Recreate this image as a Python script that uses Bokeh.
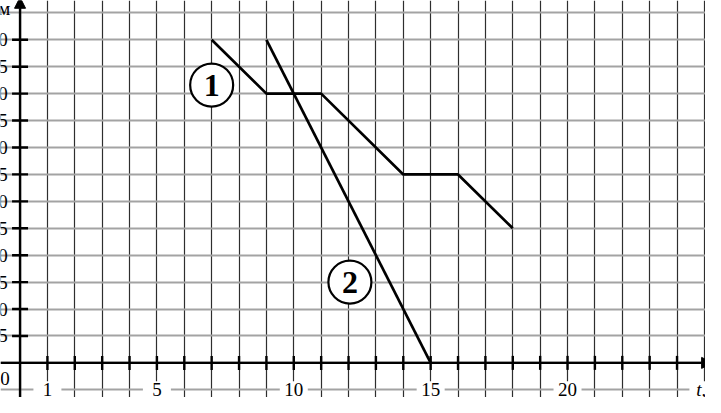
from bokeh.plotting import figure
from bokeh.models import Grid, SingleIntervalTicker, Arrow, NormalHead
from bokeh.core.properties import value
from bokeh.embed import file_html
from bokeh.resources import INLINE

# ---- data ----
t1 = [7, 9, 11, 14, 16, 18]
s1 = [60, 50, 50, 35, 35, 25]
t2 = [9, 15]
s2 = [60, 0]
x_ticks = list(range(1, 25))
y_ticks = [5, 10, 15, 20, 25, 30, 35, 40, 45, 50, 55, 60]
y_tick_labels = ["5", "10", "15", "20", "25", "30", "35", "40", "45", "50", "55", "60"]
x_label_pos = [1, 5, 10, 15, 20]
x_tick_labels = ["1", "5", "10", "15", "20"]
marker_labels = ["1", "2"]
marker_t = [7.0, 12.05]
marker_s = [51.6, 15.0]

X0, X1 = -0.714, 25.04
Y0, Y1 = -6.43, 67.3
SERIF = "Liberation Serif"
LAB_Y = -4.9

p = figure(width=705, height=397, x_range=(X0, X1), y_range=(Y0, Y1),
           output_backend="svg", toolbar_location=None,
           x_axis_location=None, y_axis_location=None,
           min_border=0, outline_line_color=None, background_fill_color="white")
p.grid.visible = False

p.add_layout(Grid(dimension=0, ticker=SingleIntervalTicker(interval=1),
                  grid_line_color="#2e2e2e", grid_line_width=1.2))
p.add_layout(Grid(dimension=1, ticker=SingleIntervalTicker(interval=5),
                  grid_line_color="#a3a3a3", grid_line_width=2.2))

# axes as arrows
p.add_layout(Arrow(end=NormalHead(size=11, fill_color="black", line_color="black"),
                   x_start=0, y_start=Y0, x_end=0, y_end=67.9, line_width=2.4, line_color="black"))
p.add_layout(Arrow(end=NormalHead(size=11, fill_color="black", line_color="black"),
                   x_start=X0, y_start=0, x_end=25.3, y_end=0, line_width=2.4, line_color="black"))

# ticks
p.scatter(x_ticks, [0] * len(x_ticks), marker="dash", angle=1.5708, size=14,
          line_color="black", line_width=2.4)
p.scatter([0] * len(y_ticks), y_ticks, marker="dash", size=16,
          line_color="black", line_width=2.4)

# y tick labels
p.text([-0.45] * len(y_ticks), y_ticks, text=y_tick_labels, text_align="right",
       text_baseline="middle", text_font=value(SERIF), text_font_size="19px", text_color="black")

# x tick labels with white background
p.rect(x_label_pos, [LAB_Y] * len(x_label_pos), width=28, height=16,
       width_units="screen", height_units="screen", fill_color="white", line_color=None)
p.text(x_label_pos, [LAB_Y] * len(x_label_pos), text=x_tick_labels, text_align="center",
       text_baseline="middle", text_font=value(SERIF), text_font_size="19px", text_color="black")
p.rect([25.0], [LAB_Y], width=30, height=16, width_units="screen", height_units="screen",
       fill_color="white", line_color=None)
p.text([24.7], [LAB_Y], text=["t, с"], text_align="left", text_baseline="middle",
       text_font=value(SERIF), text_font_size="19px", text_font_style="italic", text_color="black")
p.text([-0.55], [-2.9], text=["0"], text_align="center", text_baseline="middle",
       text_font=value(SERIF), text_font_size="19px", text_color="black")
p.text([-0.36], [65.9], text=["s, м"], text_align="right", text_baseline="alphabetic",
       text_font=value(SERIF), text_font_size="19px", text_color="black")

# data lines
p.line(t1, s1, line_color="black", line_width=2.7)
p.line(t2, s2, line_color="black", line_width=2.7)

# circled labels
p.scatter(marker_t, marker_s, marker="circle", size=43, fill_color="white",
          line_color="black", line_width=2.2)
p.text(marker_t, marker_s, text=marker_labels, text_align="center", text_baseline="middle",
       text_font=value(SERIF), text_font_size="32px", text_font_style="bold", text_color="black")

open("out.html", "w").write(file_html(p, INLINE))
